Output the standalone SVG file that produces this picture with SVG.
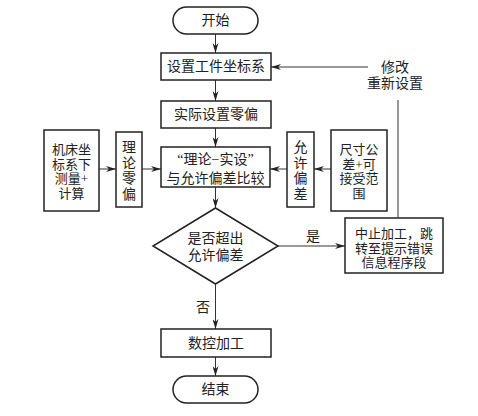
<svg xmlns="http://www.w3.org/2000/svg" width="478" height="416" viewBox="0 0 478 416">
<defs>
<style>
.box{fill:#fff;stroke:#222;stroke-width:1.5}
.t{font-family:"Liberation Serif","Noto Sans CJK SC",serif;font-size:14px;fill:#222;text-anchor:middle;dominant-baseline:central}
.s{font-size:13px}
.c{fill:none;stroke:#333;stroke-width:1}
</style>
<marker id="ah" viewBox="0 0 10 6" refX="10" refY="3" markerWidth="10" markerHeight="6" markerUnits="userSpaceOnUse" orient="auto">
<path d="M0,0 L10,3 L0,6 L3,3 Z" fill="#222"/>
</marker>
</defs>
<rect width="478" height="416" fill="#fff"/>
<g id="connectors">
<line class="c" x1="215.5" y1="34" x2="215.5" y2="53" marker-end="url(#ah)"/>
<line class="c" x1="215.5" y1="80" x2="215.5" y2="101" marker-end="url(#ah)"/>
<line class="c" x1="215.5" y1="128" x2="215.5" y2="147" marker-end="url(#ah)"/>
<line class="c" x1="215.5" y1="187" x2="215.5" y2="208" marker-end="url(#ah)"/>
<line class="c" x1="215.5" y1="284" x2="215.5" y2="329" marker-end="url(#ah)"/>
<line class="c" x1="215.5" y1="357" x2="215.5" y2="376" marker-end="url(#ah)"/>
<line class="c" x1="99" y1="169" x2="116" y2="169" marker-end="url(#ah)"/>
<line class="c" x1="142" y1="169" x2="161" y2="169" marker-end="url(#ah)"/>
<line class="c" x1="287" y1="169" x2="270" y2="169" marker-end="url(#ah)"/>
<line class="c" x1="331" y1="169" x2="314" y2="169" marker-end="url(#ah)"/>
<line class="c" x1="278" y1="246" x2="345" y2="246" marker-end="url(#ah)"/>
<line class="c" x1="398" y1="218" x2="398" y2="100"/>
<line class="c" x1="368" y1="67" x2="271" y2="67" marker-end="url(#ah)"/>
<text class="t" x="313" y="236">是</text>
<text class="t" x="203" y="307">否</text>
<text class="t" x="395" y="67">修改<tspan x="395" dy="16">重新设置</tspan></text>
</g>
<g id="start">
<rect class="box" x="173" y="7" width="85" height="27" rx="13.5"/>
<text class="t" x="215.5" y="20.5">开始</text>
</g>
<g id="set-coord">
<rect class="box" x="161" y="53" width="110" height="27"/>
<text class="t" x="216" y="66.5">设置工件坐标系</text>
</g>
<g id="actual-offset">
<rect class="box" x="161" y="101" width="110" height="27"/>
<text class="t" x="216" y="114.5">实际设置零偏</text>
</g>
<g id="machine-measure">
<rect class="box" x="44" y="130" width="55" height="81"/>
<text class="t s" x="71.5" y="149">机床坐<tspan x="71.5" dy="14.5">标系下</tspan><tspan x="71.5" dy="14.5">测量+</tspan><tspan x="71.5" dy="14.5">计算</tspan></text>
</g>
<g id="theory-offset">
<rect class="box" x="116" y="132" width="26" height="75"/>
<text class="t" x="129" y="147">理<tspan x="129" dy="15.5">论</tspan><tspan x="129" dy="15.5">零</tspan><tspan x="129" dy="15.5">偏</tspan></text>
</g>
<g id="compare">
<rect class="box" x="161" y="147" width="109" height="40"/>
<text class="t" x="215.5" y="159.5">“理论−实设”<tspan x="215.5" dy="18">与允许偏差比较</tspan></text>
</g>
<g id="allowed-dev">
<rect class="box" x="287" y="132" width="27" height="75"/>
<text class="t" x="300.5" y="147">允<tspan x="300.5" dy="15.5">许</tspan><tspan x="300.5" dy="15.5">偏</tspan><tspan x="300.5" dy="15.5">差</tspan></text>
</g>
<g id="tolerance">
<rect class="box" x="331" y="130" width="56" height="81"/>
<text class="t s" x="359" y="149">尺寸公<tspan x="359" dy="14.5">差+可</tspan><tspan x="359" dy="14.5">接受范</tspan><tspan x="359" dy="14.5">围</tspan></text>
</g>
<g id="decision">
<polygon class="box" points="215.5,208 278,246 215.5,284 153,246"/>
<text class="t" x="215.5" y="238">是否超出<tspan x="215.5" dy="17">允许偏差</tspan></text>
</g>
<g id="error">
<rect class="box" x="345" y="218" width="98" height="55"/>
<text class="t s" x="394" y="233">中止加工，跳<tspan x="394" dy="14.5">转至提示错误</tspan><tspan x="394" dy="14.5">信息程序段</tspan></text>
</g>
<g id="machining">
<rect class="box" x="161" y="329" width="110" height="28"/>
<text class="t" x="216" y="343">数控加工</text>
</g>
<g id="end">
<rect class="box" x="173" y="376" width="85" height="27" rx="13.5"/>
<text class="t" x="215.5" y="389.5">结束</text>
</g>
</svg>
